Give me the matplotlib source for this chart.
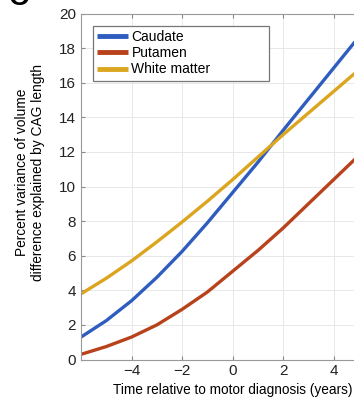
import numpy as np
import matplotlib.pyplot as plt

plt.rcParams['font.family'] = ['Liberation Sans', 'DejaVu Sans']

# Dados
time = [-6, -5, -4, -3, -2, -1, 0, 1, 2, 3, 4, 5]
caudate = [1.3, 2.25, 3.4, 4.75, 6.25, 7.9, 9.65, 11.4, 13.25, 15.05, 16.85, 18.65]
putamen = [0.3, 0.75, 1.3, 2.0, 2.9, 3.9, 5.1, 6.3, 7.6, 9.0, 10.4, 11.8]
white_matter = [3.8, 4.7, 5.7, 6.8, 7.95, 9.15, 10.4, 11.7, 13.0, 14.25, 15.5, 16.75]

labels = ['Caudate', 'Putamen', 'White matter']
colors = ['#2F5DBF', '#B8421B', '#DBA520']
xticks = [-4, -2, 0, 2, 4]
yticks = np.arange(0, 21, 2)

fig = plt.figure(figsize=(3.54, 3.98), dpi=100)
# eixo mais largo que a figura: o lado direito fica cortado, como no original
ax = fig.add_axes([0.229, 0.0967, 0.856, 0.869])

for y, c, lab in zip([caudate, putamen, white_matter], colors, labels):
    ax.plot(time, y, color=c, lw=2.4, label=lab, solid_capstyle='butt')

ax.set_xlim(-6, 6)
ax.set_ylim(0, 20)
ax.set_xticks(xticks)
ax.set_yticks(yticks)
ax.grid(True, color='#e8e8e8', lw=0.7)
ax.tick_params(direction='in', top=True, right=True, length=3,
               labelsize=11, colors='#222222', color='#888888')
for s in ax.spines.values():
    s.set_color('#999999')
    s.set_linewidth(0.8)

ax.set_xlabel('Time relative to motor diagnosis (years)', fontsize=9.8, labelpad=3)
ax.set_ylabel('Percent variance of volume\ndifference explained by CAG length', fontsize=9.9)
ax.yaxis.set_label_coords(-0.12, 0.54)

leg = ax.legend(loc='upper left', bbox_to_anchor=(0.04, 0.5, 0.58, 0.464),
                mode='expand', borderaxespad=0, fontsize=10, handlelength=2.2,
                handletextpad=0.25, labelspacing=0.15, borderpad=0.3,
                fancybox=False, framealpha=1)
leg.get_frame().set_edgecolor('#777777')
leg.get_frame().set_linewidth(0.9)
for h in leg.get_lines():
    h.set_linewidth(3.5)

# letra do painel, cortada no topo
fig.text(0.025, 0.987, 'C', fontsize=20, fontweight='bold', va='baseline')

fig.savefig('out.png', dpi=100)
